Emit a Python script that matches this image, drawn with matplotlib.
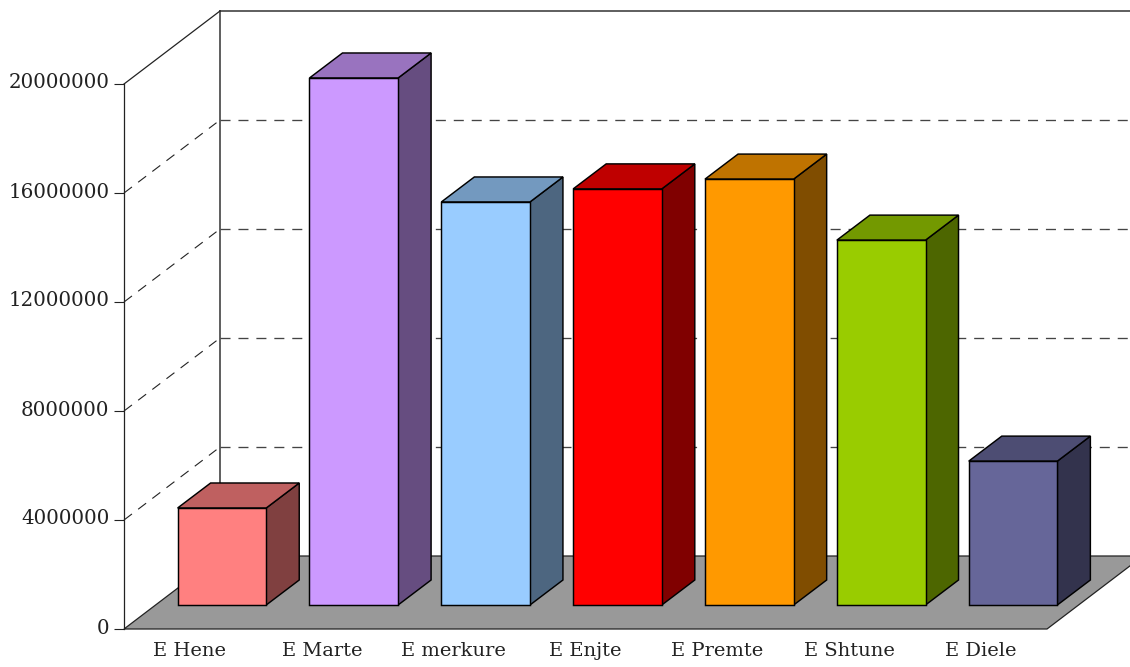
import matplotlib
matplotlib.use("Agg")
import matplotlib.pyplot as plt
from matplotlib.patches import Polygon
from matplotlib.transforms import ScaledTranslation

categories = ["E Hene", "E Marte", "E merkure", "E Enjte", "E Premte", "E Shtune", "E Diele"]
values = [3560000, 19340000, 14790000, 15270000, 15630000, 13390000, 5280000]
front_colors = ["#FF8080", "#CC99FF", "#99CCFF", "#FF0000", "#FF9900", "#99CC00", "#666699"]
top_colors = ["#BF6060", "#9973BF", "#7399BF", "#BF0000", "#BF7300", "#739900", "#4D4D73"]
side_colors = ["#804040", "#664D80", "#4D6680", "#800000", "#804D00", "#4D6600", "#33334D"]
y_ticks = [0, 4000000, 8000000, 12000000, 16000000, 20000000]

W, H = 1130, 667
plt.rcParams["font.family"] = ["DejaVu Serif"]
fig = plt.figure(figsize=(W / 100, H / 100), dpi=100, facecolor="white")
L, R, T, B = 124.0, 1047.0, 84.0, 629.0
ax = fig.add_axes([L / W, 1 - B / H, (R - L) / W, (B - T) / H])
ax.set_xlim(-0.5, 6.5)
ax.set_ylim(0, 20000000)
ax.patch.set_visible(False)
for s in ["top", "right", "bottom"]:
    ax.spines[s].set_visible(False)
ax.spines["left"].set_linewidth(0.9)
ax.spines["left"].set_color("#222222")

PX = (R - L) / 7            # px per category
PY = (B - T) / 20000000     # px per value
dx = lambda px: px / PX
dy = lambda px: px / PY
BACK_X, BACK_Y = dx(96), dy(73)
EXT = 7.2                   # past figure edge, clipped by the canvas

# Floor
ax.add_patch(Polygon([(-0.5, 0), (6.5, 0), (6.5 + BACK_X, BACK_Y), (-0.5 + BACK_X, BACK_Y)],
                     closed=True, fc="#999999", ec="#222222", lw=0.9, zorder=1, clip_on=False))
# Back wall and top edges
bx = -0.5 + BACK_X
ax.plot([bx, bx], [BACK_Y, 20000000 + BACK_Y], color="#333333", lw=1.1, zorder=1, clip_on=False)
ax.plot([bx, EXT], [20000000 + BACK_Y] * 2, color="#333333", lw=1.1, zorder=1, clip_on=False)
ax.plot([-0.5, bx], [20000000, 20000000 + BACK_Y], color="#222222", lw=0.9, zorder=1, clip_on=False)

# Dashed gridlines on side wall and back wall
for v in y_ticks[1:-1]:
    ax.plot([-0.5, bx - dx(3.5)], [v, v + BACK_Y - dy(2.7)], color="#222222", lw=0.8,
            dashes=(9, 7), zorder=1, clip_on=False)
    ax.plot([bx, EXT], [v + BACK_Y] * 2, color="#444444", lw=0.95,
            dashes=(7.6, 6), zorder=1, clip_on=False)

# Bars
BW = 0.672
OX, OY = dx(32), dy(24)
DX, DY = dx(33), dy(25)
for i, (v, fc, tc, sc) in enumerate(zip(values, front_colors, top_colors, side_colors)):
    x0 = i - BW / 2 + OX
    x1 = i + BW / 2 + OX
    y0, y1 = OY, OY + v
    kw = dict(closed=True, ec="black", lw=1.05, zorder=3 + i, clip_on=False, joinstyle="miter")
    ax.add_patch(Polygon([(x1, y0), (x1 + DX, y0 + DY), (x1 + DX, y1 + DY), (x1, y1)], fc=sc, **kw))
    ax.add_patch(Polygon([(x0, y1), (x1, y1), (x1 + DX, y1 + DY), (x0 + DX, y1 + DY)], fc=tc, **kw))
    ax.add_patch(Polygon([(x0, y0), (x1, y0), (x1, y1), (x0, y1)], fc=fc, **kw))

ax.set_yticks(y_ticks)
ax.set_yticklabels([str(v) for v in y_ticks], fontsize=14.3, color="#222222")
ax.tick_params(axis="y", length=7.5, width=0.8, pad=3, color="#222222")
ax.set_xticks(range(7))
ax.set_xticklabels(categories, fontsize=14, color="#222222")
ax.tick_params(axis="x", length=0, pad=9)

shift = ScaledTranslation(0, 3 / 100, fig.dpi_scale_trans)
for lab in ax.get_yticklabels():
    lab.set_transform(lab.get_transform() + shift)

fig.savefig("out.png", dpi=100)
